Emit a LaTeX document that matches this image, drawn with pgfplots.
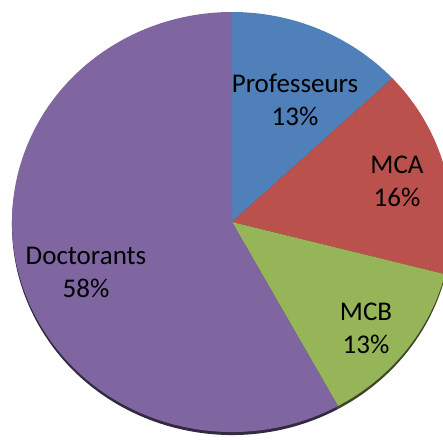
\documentclass[border=0pt]{standalone}
\usepackage{pgfplots}
\pgfplotsset{compat=1.18}
\usepackage{pgfplotstable}
\usepackage{fontspec}
\setmainfont{Carlito}

\definecolor{pblue}{HTML}{4F80BA}
\definecolor{pred}{HTML}{BA514C}
\definecolor{pgreen}{HTML}{95B558}
\definecolor{ppurple}{HTML}{7F66A0}

% share in percent, slice colour, label position (axis units = px)
\pgfplotstableread{
label       value color   lx  ly
Professeurs 13    pblue   295 339
MCA         16    pred    397 258
MCB         13    pgreen  366 111
Doctorants  58    ppurple 86  167
}\piedata

\begin{document}
\begin{tikzpicture}
\begin{axis}[hide axis, scale only axis,
  width=443pt, height=439pt,
  xmin=0, xmax=443, ymin=0, ymax=439]
\pgfplotstablegetrowsof{\piedata}
\pgfmathtruncatemacro\nrows{\pgfplotsretval-1}
% shadow wedges first (shifted down), then the slices
\def\angstart{90}
\pgfplotsforeachungrouped \i in {0,...,\nrows}{
  \pgfplotstablegetelem{\i}{value}\of\piedata \let\val\pgfplotsretval
  \pgfplotstablegetelem{\i}{color}\of\piedata \let\col\pgfplotsretval
  \pgfmathsetmacro\angend{\angstart-3.6*\val}
  \edef\cmd{\noexpand\fill[black!60!\col] (axis cs:232,214) --
    (axis cs:{232+220*cos(\angstart)},{214+210*sin(\angstart)})
    arc[start angle=\angstart, end angle=\angend, x radius=220pt, y radius=210pt] -- cycle;}
  \cmd
  \let\angstart\angend
}
\def\angstart{90}
\pgfplotsforeachungrouped \i in {0,...,\nrows}{
  \pgfplotstablegetelem{\i}{value}\of\piedata \let\val\pgfplotsretval
  \pgfplotstablegetelem{\i}{color}\of\piedata \let\col\pgfplotsretval
  \pgfmathsetmacro\angend{\angstart-3.6*\val}
  \edef\cmd{\noexpand\fill[\col] (axis cs:232,217) --
    (axis cs:{232+220*cos(\angstart)},{217+210*sin(\angstart)})
    arc[start angle=\angstart, end angle=\angend, x radius=220pt, y radius=210pt] -- cycle;}
  \cmd
  \let\angstart\angend
}
\pgfplotsforeachungrouped \i in {0,...,\nrows}{
  \pgfplotstablegetelem{\i}{label}\of\piedata \let\lab\pgfplotsretval
  \pgfplotstablegetelem{\i}{value}\of\piedata \let\val\pgfplotsretval
  \pgfplotstablegetelem{\i}{lx}\of\piedata \let\lx\pgfplotsretval
  \pgfplotstablegetelem{\i}{ly}\of\piedata \let\ly\pgfplotsretval
  \edef\cmd{\noexpand\node[align=center, font=\noexpand\fontsize{27}{33}\noexpand\selectfont]
    at (axis cs:\lx,\ly) {\lab\noexpand\\\val\noexpand\%};}
  \cmd
}
\end{axis}
\pgfresetboundingbox
\path (current axis.south west) rectangle (current axis.north east);
\end{tikzpicture}
\end{document}
